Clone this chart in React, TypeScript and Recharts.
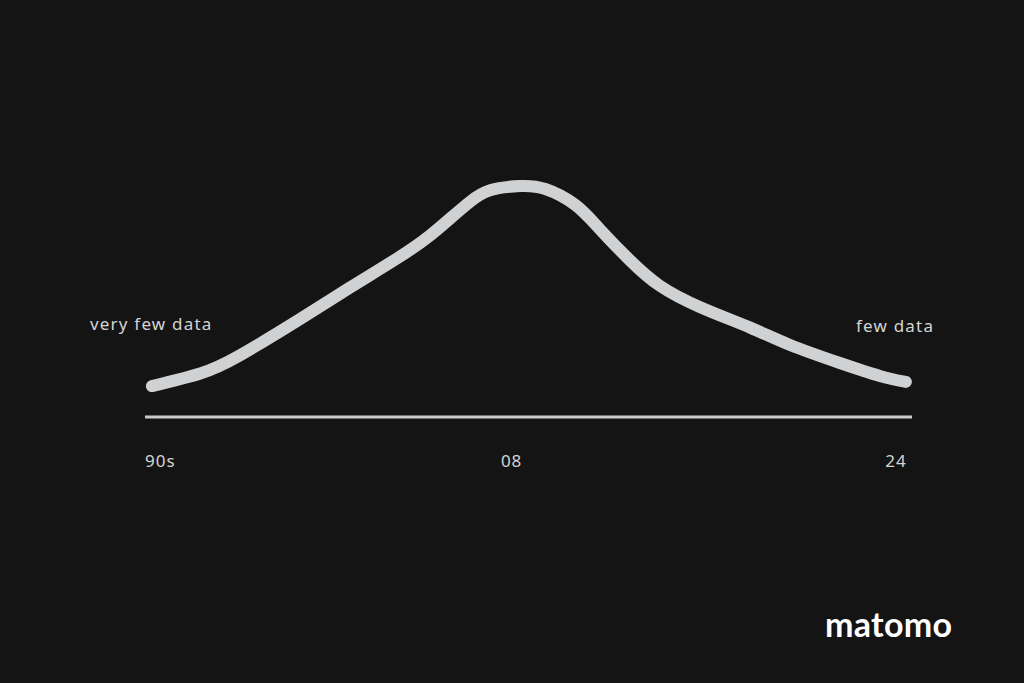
import { LineChart, Line, XAxis, YAxis } from "recharts";

// sketch of "how much data there is" over time
const xPos = [0.9, 7.2, 12.4, 20.2, 26.7, 33.2, 37.2, 39.8, 42.4, 45, 48.9, 52.2, 56.1, 59.3, 63.2, 67.1, 72.4, 78.9, 84.1, 90.6, 95.8, 99.2];
const volume = [10.3, 14.5, 20.6, 32.6, 43.1, 53.4, 60.6, 66.2, 71.8, 75.6, 77, 76, 70.7, 62.6, 52.3, 43.8, 36.6, 29.8, 24, 18, 13.7, 11.7];

const tickValues = [2, 47.8, 97.9];
const tickLabels = ["90s", "08", "24"];

const data = xPos.map((x, i) => ({ x, v: volume[i] }));

const BG = "#141414";
const INK = "#cfd1d3";
const FONT = "'Noto Sans', sans-serif";

const note = { position: "absolute" as const, color: "#d4d4d4", fontFamily: FONT, fontSize: 17, letterSpacing: 1.2 };

export default function App() {
  return (
    <div style={{ position: "fixed", left: 0, top: 0, width: 1024, height: 683, background: BG }}>
      <LineChart width={1024} height={683} data={data} margin={{ top: 117, right: 112, bottom: 206, left: 145 }}>
        <XAxis
          dataKey="x"
          type="number"
          domain={[0, 100]}
          ticks={tickValues}
          tickFormatter={(v: number) => tickLabels[tickValues.indexOf(v)] ?? ""}
          axisLine={{ stroke: "#c9cbcd", strokeWidth: 3 }}
          tickLine={false}
          tickMargin={32}
          height={60}
          tick={{ fill: "#d4d4d4", fontSize: 17, fontFamily: FONT, letterSpacing: 1 }}
        />
        <YAxis hide domain={[0, 100]} />
        <Line
          type="natural"
          dataKey="v"
          stroke={INK}
          strokeWidth={12}
          strokeLinecap="round"
          strokeLinejoin="round"
          dot={false}
          activeDot={false}
          isAnimationActive={false}
        />
      </LineChart>
      <div style={{ ...note, left: 90, top: 312 }}>very few data</div>
      <div style={{ ...note, left: 856, top: 314 }}>few data</div>
      <div style={{ position: "absolute", left: 825, top: 603, color: "#ffffff", fontFamily: "Lato, sans-serif", fontWeight: 700, fontSize: 34, letterSpacing: 0.3 }}>
        matomo
      </div>
    </div>
  );
}
